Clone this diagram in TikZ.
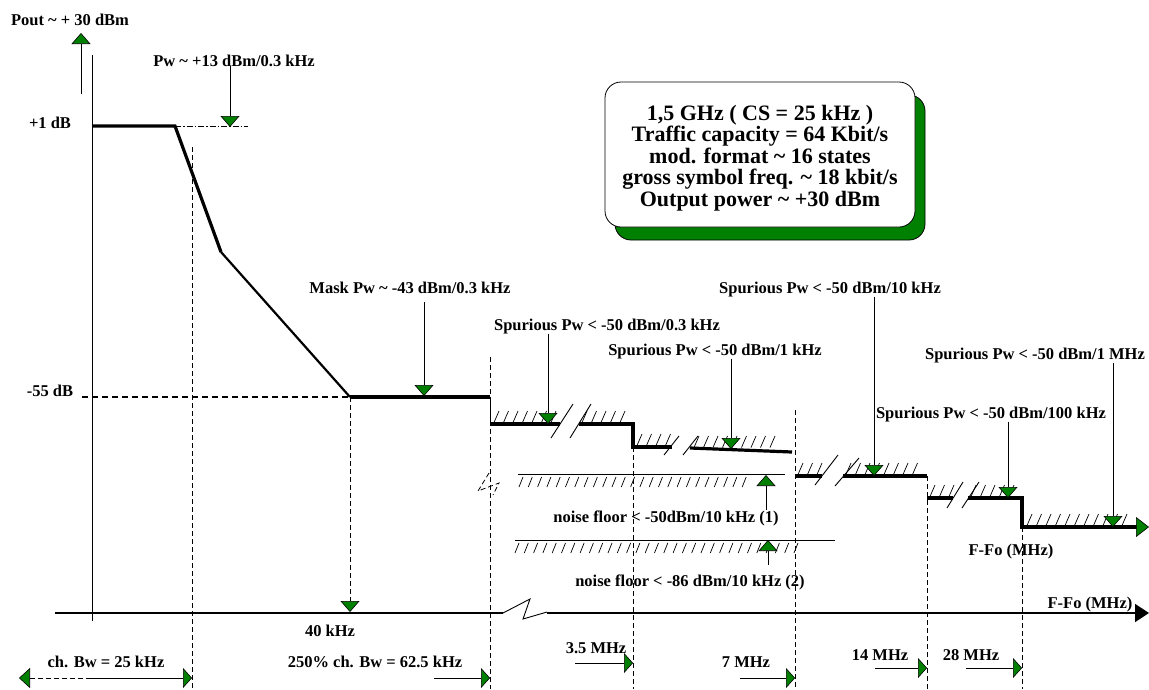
\documentclass[tikz,border=0pt]{standalone}
\usepackage{fontspec}
\setmainfont{Liberation Serif}
\usetikzlibrary{arrows.meta,shadows}
\definecolor{ngreen}{RGB}{0,128,0}
\newcommand\hup[3]{\pgfmathsetmacro\hb{#1+9.5}\foreach \hx in {#1,\hb,...,#2}{\draw[hatchln] (\hx,#3-1.5) -- (\hx+5,#3-13);}}
\newcommand\hdn[3]{\pgfmathsetmacro\hb{#1+9.3}\foreach \hx in {#1,\hb,...,#2}{\draw[hatchln] (\hx,#3+13) -- (\hx+4,#3+3);}}
\begin{document}
\begin{tikzpicture}[x=1pt,y=-1pt,
  lbl/.style={font=\fontsize{16.5}{18}\selectfont\bfseries, inner sep=0pt, anchor=base},
  thk/.style={line width=3.2pt},
  fine/.style={line width=0.9pt},
  hatchln/.style={line width=0.7pt},
  vdash/.style={line width=0.8pt, dash pattern=on 5pt off 3pt},
  gtip/.style={-{Triangle[width=19pt,length=11pt,fill=ngreen,line width=0.6pt]}},
  rtip/.style={-{Triangle[width=20pt,length=9pt,fill=ngreen,line width=0.6pt]}},
  ltip/.style={{Triangle[width=20pt,length=11pt,fill=ngreen,line width=0.6pt]}-}
]
\useasboundingbox (0,0) rectangle (1149,689);

% ---- axes
\draw[line width=1pt] (92,55) -- (92,621);
\draw[line width=1.6pt] (55,613) -- (503,613);
\draw[fine] (503,613) -- (530,599) -- (523,619) -- (547,612);
\draw[line width=1.6pt,-{Triangle[width=18pt,length=14pt]}] (547,613) -- (1149,613);
\draw[fine,gtip] (81,94) -- (81,33);

% ---- labels
\node[lbl] (pout) at (70,25) {Pout \textasciitilde{} + 30 dBm};
\node[lbl] (p1db) at (50,128) {+1 dB};
\node[lbl] (m55) at (50,396) {-55 dB};
\node[lbl] (pw) at (234,66) {Pw \textasciitilde{} +13 dBm/0.3 kHz};
\node[lbl] (mask) at (410,293) {Mask Pw \textasciitilde{} -43 dBm/0.3 kHz};
\node[lbl] (s03) at (607,330) {Spurious Pw < -50 dBm/0.3 kHz};
\node[lbl] (s1k) at (715,355) {Spurious Pw < -50 dBm/1 kHz};
\node[lbl] (s10k) at (830,293) {Spurious Pw < -50 dBm/10 kHz};
\node[lbl] (s1M) at (1035,359) {Spurious Pw < -50 dBm/1 MHz};
\node[lbl] (s100k) at (991,418) {Spurious Pw < -50 dBm/100 kHz};
\node[lbl] (ffo1) at (1011,555) {F-Fo (MHz)};
\node[lbl] (ffo2) at (1090,608) {F-Fo (MHz)};
\node[lbl] (nf1) at (666,522) {noise floor < -50dBm/10 kHz (1)};
\node[lbl] (nf2) at (690,586) {noise floor < -86 dBm/10 kHz (2)};
\node[lbl] (k40) at (330,636) {40 kHz};
\node[lbl] (chbw) at (106,667) {ch. Bw = 25 kHz};
\node[lbl] (bw250) at (375,667) {250\% ch. Bw = 62.5 kHz};
\node[lbl] (m35) at (596,653) {3.5 MHz};
\node[lbl] (m7) at (746,667) {7 MHz};
\node[lbl] (m14) at (880,660) {14 MHz};
\node[lbl] (m28) at (971,660) {28 MHz};

% ---- info box
\node[draw=black, line width=0.8pt, fill=white, rounded corners=16pt,
  minimum width=310pt, minimum height=145pt, align=center,
  font=\fontsize{22}{21.5}\selectfont\bfseries,
  general shadow={shadow xshift=10pt, shadow yshift=-13pt, fill=ngreen, draw=black, line width=0.8pt}]
  (box) at (760,154.5) {};
\node[align=center, inner sep=0pt, font=\fontsize{22}{21.5}\selectfont\bfseries] (boxtxt) at (760,158)
  {1,5 GHz ( CS = 25 kHz )\\Traffic capacity = 64 Kbit/s\\mod. format \textasciitilde{} 16 states\\gross symbol freq. \textasciitilde{} 18 kbit/s\\Output power \textasciitilde{} +30 dBm};

% ---- guide lines
\draw[line width=0.8pt, dash pattern=on 6pt off 2pt on 1.5pt off 2pt] (175,126) -- (248,126);
\draw[line width=1.2pt, dash pattern=on 6pt off 4pt] (82,397) -- (350,397);
\draw[vdash] (192,147) -- (192,689);
\draw[vdash] (490,357) -- (490,689);
\draw[vdash] (633,447) -- (633,689);
\draw[vdash] (795,410) -- (795,689);
\draw[vdash] (927,476) -- (927,689);
\draw[vdash] (1022,527) -- (1022,689);
\draw[vdash] (489,473) -- (478,491) -- (499,483) -- (493,495);

% ---- mask curve
\draw[thk] (92,126) -- (175,126) -- (221,252);
\draw[line width=2.2pt] (221,252) -- (350,397);
\draw[line width=3.5pt] (350,397) -- (490,397);
\draw[fine] (490,397) -- (490,424);
\draw[thk] (490,424) -- (560,424);
\draw[thk] (579,424) -- (633,424) -- (633,447) -- (672,447);
\draw[thk] (690,448) -- (792,452);
\draw[thk] (795,476) -- (822,476);
\draw[thk] (843,476) -- (927,476);
\draw[thk] (927,498) -- (953,498);
\draw[thk] (968,498) -- (1022,498) -- (1022,527) -- (1138,527);
\draw[fine,-{Triangle[width=20pt,length=13pt,fill=ngreen,line width=0.6pt]}] (1130,527) -- (1149,527);

% ---- break slashes
\draw[fine] (551,438) -- (573,404);  \draw[fine] (570,438) -- (591,404);
\draw[fine] (664,455) -- (679,436);  \draw[fine] (683,455) -- (698,436);
\draw[fine] (815,485) -- (838,455);  \draw[fine] (835,486) -- (859,458);
\draw[fine] (947,508) -- (963,482);  \draw[fine] (962,508) -- (979,482);

% ---- hatching
\hup{494}{554}{424}
\hup{582}{620}{424}
\hup{637}{668}{447}
\hup{694}{770}{449}
\hup{798}{820}{476}
\hup{846}{914}{476}
\hup{930}{950}{498}
\hup{971}{1012}{498}
\hup{1027}{1125}{527}

% ---- noise floors
\draw[line width=1pt] (518,474) -- (785,474);
\hdn{519}{750}{474}
\draw[line width=1pt] (515,540) -- (835,540);
\hdn{515}{795}{540}

% ---- pointer arrows
\coordinate (tpw) at (230,127);
\coordinate (tmask) at (424,396);
\coordinate (t03) at (548,424);
\coordinate (t1k) at (731,449);
\coordinate (t10k) at (874,476);
\coordinate (t100k) at (1008,498);
\coordinate (t1M) at (1113,527);
\draw[fine,gtip] (pw.south -| tpw) -- (tpw);
\draw[fine,gtip] ([yshift=-9pt]mask.south -| tmask) -- (tmask);
\draw[fine,gtip] (s03.south -| t03) -- (t03);
\draw[fine,gtip] (s1k.south -| t1k) -- (t1k);
\draw[fine,gtip] (s10k.south -| t10k) -- (t10k);
\draw[fine,gtip] (s100k.south -| t100k) -- (t100k);
\draw[fine,gtip] (s1M.south -| t1M) -- (t1M);
\draw[fine,gtip] (766,510) -- (766,475);
\draw[fine,gtip] (768,565) -- (768,540);
\draw[vdash,gtip] (350,397) -- (350,612);

% ---- bottom span arrows
\draw[line width=0.8pt, dash pattern=on 5pt off 3pt, ltip] (19,678) -- (88,678);
\draw[fine,rtip] (88,678) -- (192,678);
\draw[fine,rtip] (434,678) -- (490,678);
\draw[fine,rtip] (575,663) -- (633,663);
\draw[fine,rtip] (740,678) -- (795,678);
\draw[fine,rtip] (875,668) -- (927,668);
\draw[fine,rtip] (966,668) -- (1022,668);
\end{tikzpicture}
\end{document}
